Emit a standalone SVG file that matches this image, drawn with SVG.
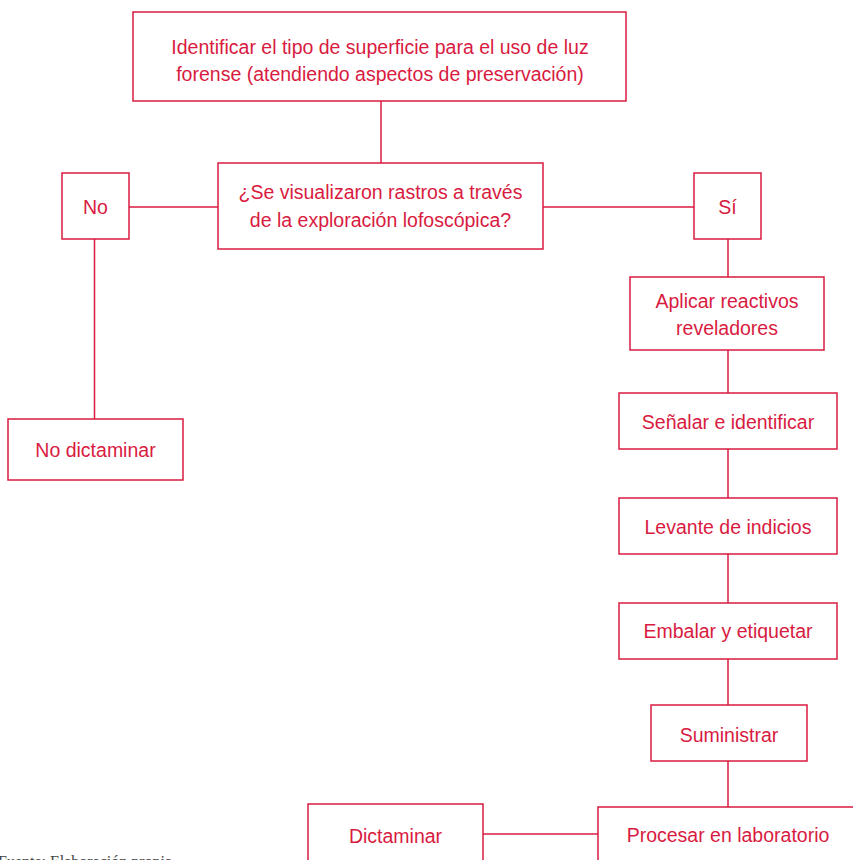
<svg xmlns="http://www.w3.org/2000/svg" width="853" height="860" viewBox="0 0 853 860">
<style>
.box{fill:#fff;stroke:#D81B3F;stroke-width:1.5}
.t{font-family:"Liberation Sans",Arial,sans-serif;font-size:19.5px;fill:#D81B3F;text-anchor:middle}
.c{stroke:#D81B3F;stroke-width:1.5;fill:none}
.src{font-family:"Liberation Serif","Times New Roman",serif;font-size:16px;fill:#444}
</style>
<rect width="853" height="860" fill="#fff"/>
<g id="connectors">
<line class="c" x1="381" y1="101" x2="381" y2="163"/>
<line class="c" x1="129" y1="207" x2="218" y2="207"/>
<line class="c" x1="543" y1="207" x2="694" y2="207"/>
<line class="c" x1="94.5" y1="239" x2="94.5" y2="419"/>
<line class="c" x1="728" y1="239" x2="728" y2="277"/>
<line class="c" x1="728" y1="350" x2="728" y2="393"/>
<line class="c" x1="728" y1="449" x2="728" y2="498"/>
<line class="c" x1="728" y1="554" x2="728" y2="603"/>
<line class="c" x1="728" y1="659" x2="728" y2="705"/>
<line class="c" x1="728" y1="761" x2="728" y2="807"/>
<line class="c" x1="483" y1="834" x2="598" y2="834"/>
</g>
<g id="n-identificar">
<rect class="box" x="133" y="12" width="493" height="89"/>
<text class="t" x="380" y="54">Identificar el tipo de superficie para el uso de luz</text>
<text class="t" x="380" y="81">forense (atendiendo aspectos de preservación)</text>
</g>
<g id="n-pregunta">
<rect class="box" x="218" y="163" width="325" height="86"/>
<text class="t" x="380.5" y="199">¿Se visualizaron rastros a través</text>
<text class="t" x="380.5" y="227">de la exploración lofoscópica?</text>
</g>
<g id="n-no">
<rect class="box" x="62" y="173" width="67" height="66"/>
<text class="t" x="95.5" y="214">No</text>
</g>
<g id="n-si">
<rect class="box" x="694" y="173" width="67" height="66"/>
<text class="t" x="727.5" y="214">Sí</text>
</g>
<g id="n-nodictaminar">
<rect class="box" x="8" y="419" width="175" height="61"/>
<text class="t" x="95.5" y="457">No dictaminar</text>
</g>
<g id="n-aplicar">
<rect class="box" x="630" y="277" width="194" height="73"/>
<text class="t" x="727" y="308">Aplicar reactivos</text>
<text class="t" x="727" y="335">reveladores</text>
</g>
<g id="n-senalar">
<rect class="box" x="619" y="393" width="218" height="56"/>
<text class="t" x="728" y="429">Señalar e identificar</text>
</g>
<g id="n-levante">
<rect class="box" x="619" y="498" width="218" height="56"/>
<text class="t" x="728" y="534">Levante de indicios</text>
</g>
<g id="n-embalar">
<rect class="box" x="619" y="603" width="218" height="56"/>
<text class="t" x="728" y="638">Embalar y etiquetar</text>
</g>
<g id="n-suministrar">
<rect class="box" x="651" y="705" width="156" height="56"/>
<text class="t" x="729" y="742">Suministrar</text>
</g>
<g id="n-dictaminar">
<rect class="box" x="308" y="804" width="175" height="70"/>
<text class="t" x="395.5" y="843">Dictaminar</text>
</g>
<g id="n-procesar">
<rect class="box" x="598" y="807" width="260" height="70"/>
<text class="t" x="728" y="842">Procesar en laboratorio</text>
</g>
<text class="src" x="-2" y="867">Fuente: Elaboración propia</text>
</svg>
